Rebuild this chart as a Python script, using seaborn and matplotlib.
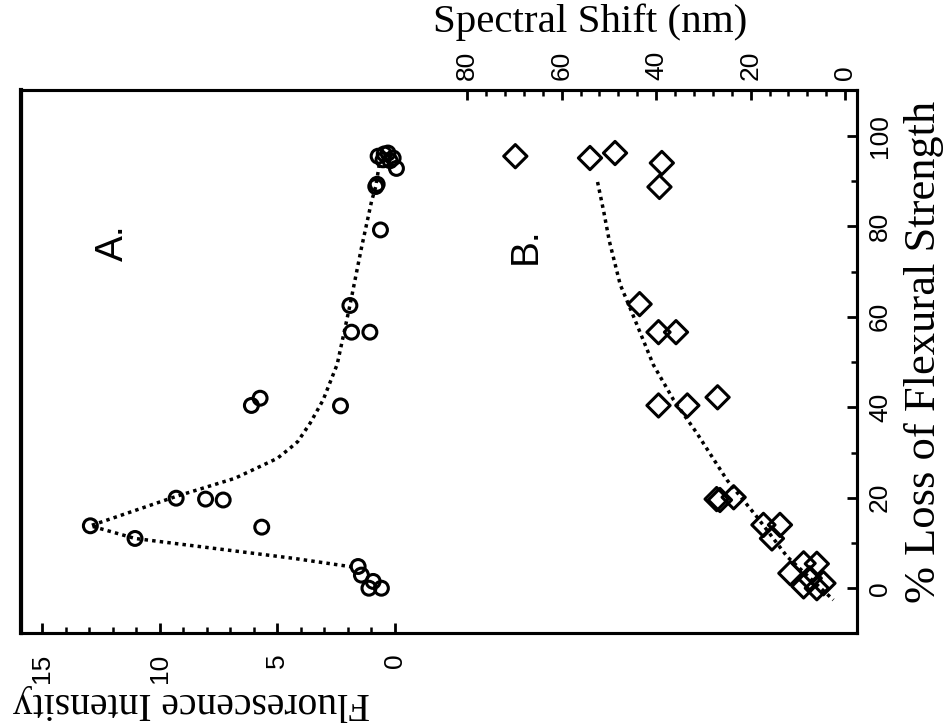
import matplotlib
matplotlib.use("Agg")
import matplotlib.pyplot as plt
import seaborn as sns
from matplotlib.ticker import FixedLocator

# ---- data -------------------------------------------------------------
# A: fluorescence intensity vs % loss of flexural strength (open circles)
a_loss = [13.8, 11.0, 19.9, 19.7, 19.5, 13.5, 40.4, 42.0, 40.3, 4.8, 2.9, 1.5,
          0.0, 0.0, 62.5, 56.6, 56.6, 79.2, 88.8, 89.3, 95.5, 96.2, 95.1, 92.8,
          94.7, 96.0, 94.5]
a_fluor = [12.95, 11.05, 9.3, 8.05, 7.3, 5.66, 6.1, 5.73, 2.31, 1.56, 1.42, 0.92,
           1.1, 0.57, 1.91, 1.84, 1.06, 0.61, 0.81, 0.75, 0.71, 0.29, 0.07, -0.07,
           0.5, 0.45, 0.2]

# A: dotted trend line
a_fit_loss = [4.7, 6.6, 11.0, 13.8, 20.3, 24.3, 28.7, 30.9, 32.4, 36.5, 41.6,
              49.5, 62.5, 75.2, 85.5, 88.8, 94.0]
a_fit_fluor = [1.8, 4.3, 11.05, 12.95, 9.3, 6.8, 5.0, 4.47, 4.13, 3.6, 3.05,
               2.45, 1.91, 1.42, 0.99, 0.81, 0.65]

# B: spectral shift vs % loss of flexural strength (open diamonds)
b_loss = [95.5, 95.1, 96.2, 94.0, 88.7, 62.8, 56.6, 56.6, 40.4, 40.4, 42.2,
          19.7, 19.5, 20.1, 14.0, 14.0, 11.0, 3.3, 5.5, 5.4, 1.1, 0.4, 0.0, 2.2]
b_shift = [69.8, 54.0, 48.7, 38.8, 39.3, 43.5, 39.5, 35.8, 39.5, 33.4, 27.0,
           27.2, 26.5, 23.6, 17.3, 13.8, 15.5, 11.6, 8.8, 6.0, 4.6, 8.8, 6.0, 7.5]

# B: dotted trend line
b_fit_loss = [89.8, 83.3, 76.7, 67.1, 61.9, 49.4, 41.6, 34.3, 23.9, 15.8, 7.0, -2.6]
b_fit_shift = [52.4, 51.1, 49.9, 47.6, 45.5, 40.6, 36.3, 31.4, 25.0, 18.7, 12.3, 2.5]

loss_ticks = [0, 20, 40, 60, 80, 100]
fluor_ticks = [0, 5, 10, 15]
shift_ticks = [0, 20, 40, 60, 80]

# ---- style ------------------------------------------------------------
sns.set_style("ticks")
plt.rcParams["font.family"] = ["Liberation Sans", "DejaVu Sans"]
plt.rcParams["text.color"] = "black"
plt.rcParams["axes.labelcolor"] = "black"
SERIF = ["Liberation Serif", "DejaVu Serif"]
INK = "black"
DOTS = (0, (1, 1.2))

fig = plt.figure(figsize=(9.43, 7.26), dpi=100)
ax = fig.add_axes([21 / 943, 1 - 633 / 726, (857 - 21) / 943, (633 - 89.7) / 726])
ax2 = ax.twiny()

# panel A on the fluorescence axis (bottom)
sns.lineplot(x=a_fit_fluor, y=a_fit_loss, sort=False, estimator=None, ax=ax,
             color=INK, linewidth=2.5, linestyle=DOTS)
sns.scatterplot(x=a_fluor, y=a_loss, ax=ax, marker="o", s=100,
                facecolors="none", edgecolor=INK, linewidth=2.2, zorder=3)

# panel B on the spectral-shift axis (top)
sns.lineplot(x=b_fit_shift, y=b_fit_loss, sort=False, estimator=None, ax=ax2,
             color=INK, linewidth=2.5, linestyle=DOTS)
sns.scatterplot(x=b_shift, y=b_loss, ax=ax2, marker="D", s=140,
                facecolors="none", edgecolor=INK, linewidth=2.2, zorder=3)

# axis ranges (both horizontal scales run right-to-left)
ax.set_xlim(15.9, -19.66)
ax.set_ylim(-9.9, 110.2)
ax2.set_xlim(174.4, -2.5)

# ---- ticks ------------------------------------------------------------
ax.xaxis.set_major_locator(FixedLocator(fluor_ticks))
ax.xaxis.set_minor_locator(FixedLocator(list(range(0, 16))))
ax.yaxis.set_major_locator(FixedLocator(loss_ticks))
ax.yaxis.set_minor_locator(FixedLocator([10, 30, 50, 70, 90]))
ax2.xaxis.set_major_locator(FixedLocator(shift_ticks))
ax2.xaxis.set_minor_locator(FixedLocator(list(range(0, 81, 4))))

ax.yaxis.tick_right()
ax.yaxis.set_label_position("right")

ax.tick_params(axis="x", which="both", direction="in", bottom=True, top=False,
               labelrotation=90, labelsize=19, pad=15, colors=INK)
ax.tick_params(axis="y", which="both", direction="in", left=False, right=True,
               labelleft=False, labelright=True, labelrotation=90,
               labelsize=19, pad=8, colors=INK)
ax2.tick_params(axis="x", which="both", direction="in", top=True, bottom=False,
                labeltop=True, labelbottom=False, labelrotation=90,
                labelsize=19, pad=7, colors=INK)
for a in (ax, ax2):
    a.tick_params(which="major", length=7, width=2.0)
    a.tick_params(which="minor", length=4.5, width=1.8)

for lbl in ax.get_yticklabels():
    lbl.set_verticalalignment("center")

for a in (ax, ax2):
    for sp in a.spines.values():
        sp.set_linewidth(2.2)
        sp.set_color(INK)
ax.spines["left"].set_linewidth(3.0)

# ---- labels -----------------------------------------------------------
ax.set_xlabel("Fluorescence Intensity", fontfamily=SERIF, fontsize=28.5,
              rotation=180, ha="center", va="center", color=INK)
ax.xaxis.set_label_coords(0.2045, -0.128)

ax.set_ylabel("% Loss of Flexural Strength", fontfamily=SERIF, fontsize=32,
              rotation=90, ha="center", va="center", color=INK)
ax.yaxis.set_label_coords(1.08, 0.517)

ax2.set_xlabel("Spectral Shift (nm)", fontfamily=SERIF, fontsize=29.5,
               ha="center", va="center", color=INK)
ax2.xaxis.set_label_coords(0.681, 1.125)

ax.text(12.0, 76.3, "A.", rotation=90, fontsize=28, ha="center", va="center",
        color=INK)
ax.text(-5.57, 75.8, "B.", rotation=90, fontsize=28, ha="center", va="center",
        color=INK)

fig.savefig("out.png", dpi=100, facecolor="white")
